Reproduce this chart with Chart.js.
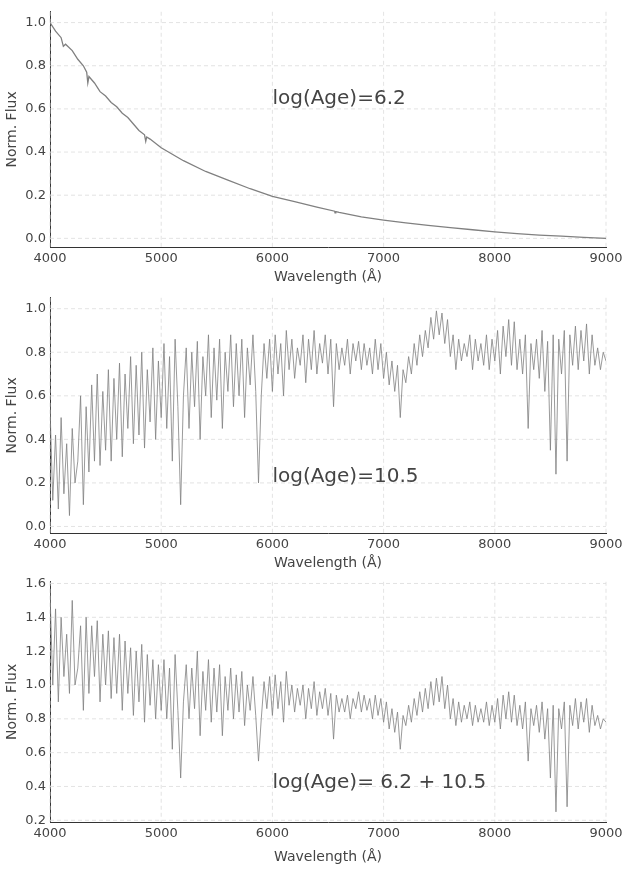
<!DOCTYPE html>
<html>
<head>
<meta charset="utf-8">
<script src="https://cdn.jsdelivr.net/npm/chart.js@4.4.0/dist/chart.umd.min.js"></script>
<style>
  body { margin: 0; background: #fff; width: 631px; height: 870px; position: relative; overflow: hidden; }
  .panel { position: absolute; left: 0; width: 631px; }
</style>
</head>
<body>
<div class="panel" style="top:0;height:290px"><canvas id="c1"></canvas></div>
<div class="panel" style="top:286px;height:290px"><canvas id="c2"></canvas></div>
<div class="panel" style="top:570px;height:300px"><canvas id="c3"></canvas></div>
<script>
// young population: wavelength / flux
const youngWave = [4000,4050,4100,4120,4140,4200,4250,4300,4330,4340,4350,4400,4450,4500,4550,4600,4650,4700,4750,4800,4850,4861,4870,4900,5000,5200,5400,5600,5800,6000,6200,6400,6560,6563,6570,6600,6800,7000,7200,7400,7600,7800,8000,8200,8400,8600,8800,9000];
const youngFlux = [1.0,0.96,0.93,0.89,0.90,0.87,0.83,0.80,0.77,0.72,0.75,0.72,0.68,0.66,0.63,0.61,0.58,0.56,0.53,0.50,0.48,0.45,0.47,0.46,0.42,0.36,0.31,0.27,0.23,0.195,0.17,0.145,0.126,0.118,0.124,0.12,0.10,0.085,0.072,0.06,0.05,0.04,0.03,0.022,0.015,0.01,0.005,0.0];

// old and combined populations, sampled every 25 A from 4000 to 9000
const oldFlux = [
  0.55,0.12,0.42,0.08,0.50,0.15,0.38,0.05,0.45,0.20,
  0.30,0.60,0.10,0.55,0.25,0.65,0.30,0.70,0.28,0.62,
  0.35,0.72,0.30,0.68,0.40,0.75,0.32,0.70,0.45,0.78,
  0.38,0.74,0.42,0.80,0.36,0.72,0.48,0.82,0.40,0.76,
  0.50,0.84,0.45,0.78,0.30,0.86,0.55,0.10,0.60,0.82,
  0.45,0.80,0.55,0.85,0.40,0.78,0.60,0.88,0.50,0.82,
  0.58,0.86,0.45,0.80,0.62,0.88,0.55,0.84,0.60,0.86,
  0.50,0.82,0.65,0.88,0.62,0.20,0.60,0.84,0.68,0.86,
  0.62,0.88,0.70,0.84,0.60,0.90,0.72,0.86,0.68,0.82,
  0.74,0.88,0.66,0.86,0.72,0.90,0.70,0.84,0.75,0.88,
  0.70,0.86,0.55,0.84,0.72,0.82,0.74,0.86,0.70,0.84,
  0.76,0.85,0.72,0.84,0.74,0.82,0.70,0.86,0.72,0.84,
  0.68,0.80,0.65,0.76,0.62,0.74,0.50,0.72,0.66,0.78,
  0.70,0.84,0.74,0.88,0.78,0.90,0.82,0.96,0.86,0.99,
  0.88,0.98,0.84,0.95,0.78,0.88,0.72,0.86,0.76,0.84,
  0.78,0.88,0.72,0.86,0.76,0.84,0.74,0.88,0.72,0.86,
  0.76,0.90,0.70,0.92,0.78,0.95,0.74,0.94,0.72,0.86,
  0.70,0.88,0.45,0.84,0.72,0.86,0.68,0.90,0.62,0.85,
  0.35,0.88,0.24,0.86,0.70,0.90,0.30,0.88,0.74,0.92,
  0.72,0.90,0.76,0.93,0.70,0.88,0.74,0.82,0.72,0.80,
  0.76
];
const mixFlux = [
  1.55,1.00,1.45,0.90,1.40,1.05,1.30,0.95,1.50,1.00,
  1.10,1.35,0.85,1.40,0.95,1.35,1.05,1.38,0.90,1.30,
  1.00,1.32,0.92,1.28,0.95,1.30,0.85,1.26,0.95,1.22,
  0.82,1.20,0.90,1.24,0.78,1.18,0.88,1.15,0.80,1.12,
  0.85,1.15,0.80,1.10,0.62,1.18,0.85,0.45,0.90,1.12,
  0.80,1.10,0.86,1.20,0.70,1.08,0.85,1.15,0.78,1.10,
  0.84,1.12,0.70,1.05,0.85,1.10,0.80,1.06,0.84,1.08,
  0.76,1.00,0.85,1.05,0.82,0.55,0.80,1.02,0.86,1.05,
  0.82,1.06,0.86,1.02,0.78,1.08,0.88,1.00,0.84,0.98,
  0.88,1.00,0.80,0.98,0.86,1.02,0.82,0.96,0.86,0.98,
  0.82,0.95,0.68,0.94,0.84,0.92,0.84,0.94,0.80,0.92,
  0.86,0.96,0.84,0.94,0.85,0.92,0.80,0.94,0.82,0.92,
  0.78,0.90,0.74,0.86,0.72,0.84,0.62,0.82,0.76,0.88,
  0.78,0.92,0.82,0.96,0.84,0.98,0.86,1.02,0.88,1.04,
  0.90,1.05,0.86,1.00,0.80,0.92,0.76,0.90,0.78,0.88,
  0.80,0.90,0.76,0.88,0.78,0.86,0.78,0.90,0.76,0.88,
  0.78,0.92,0.74,0.94,0.80,0.96,0.78,0.94,0.76,0.88,
  0.74,0.90,0.55,0.86,0.76,0.88,0.72,0.90,0.68,0.86,
  0.45,0.88,0.25,0.86,0.74,0.90,0.28,0.88,0.76,0.92,
  0.74,0.90,0.78,0.92,0.72,0.88,0.76,0.82,0.74,0.80,
  0.78
];
const gridWave = oldFlux.map((_, i) => 4000 + i * 25);

const FONT = 'DejaVu Sans';
const TXT = '#444';

// dashed grid + label placed in data coordinates
const extras = {
  id: 'extras',
  beforeDatasetsDraw(chart) {
    const { ctx, chartArea: a, scales: { x, y } } = chart;
    ctx.save();
    ctx.strokeStyle = '#dcdcdc';
    ctx.lineWidth = 0.8;
    ctx.setLineDash([4, 3]);
    x.ticks.forEach(t => {
      const px = x.getPixelForValue(t.value);
      ctx.beginPath(); ctx.moveTo(px, a.top); ctx.lineTo(px, a.bottom); ctx.stroke();
    });
    y.ticks.forEach(t => {
      const py = y.getPixelForValue(t.value);
      ctx.beginPath(); ctx.moveTo(a.left, py); ctx.lineTo(a.right, py); ctx.stroke();
    });
    ctx.restore();
  },
  afterDatasetsDraw(chart) {
    const o = chart.options.plugins.extras;
    const { ctx, scales: { x, y } } = chart;
    ctx.save();
    ctx.fillStyle = TXT;
    ctx.font = '20px ' + FONT;
    ctx.textBaseline = 'middle';
    ctx.fillText(o.text, x.getPixelForValue(o.x), y.getPixelForValue(o.y));
    ctx.restore();
  }
};

function makePanel(id, wave, flux, ymin, ymax, lw, label, ly, axisH) {
  new Chart(document.getElementById(id), {
    type: 'line',
    data: {
      datasets: [{
        data: wave.map((w, i) => ({ x: w, y: flux[i] })),
        borderColor: '#808080',
        borderWidth: lw,
        pointRadius: 0,
        tension: 0
      }]
    },
    options: {
      responsive: true,
      maintainAspectRatio: false,
      animation: false,
      layout: { padding: { top: 8, right: 25, left: 0, bottom: 0 } },
      plugins: {
        legend: { display: false },
        tooltip: { enabled: false },
        extras: { text: label, x: 6000, y: ly }
      },
      scales: {
        x: {
          type: 'linear', min: 4000, max: 9000,
          ticks: { stepSize: 1000, color: TXT, font: { family: FONT, size: 13 }, padding: 4, callback: v => String(v) },
          grid: { color: 'rgba(0,0,0,0)', drawTicks: false },
          border: { display: true, color: '#333' },
          title: { display: true, text: 'Wavelength (Å)', color: TXT, font: { family: FONT, size: 14 }, padding: { top: 4 } },
          afterFit(s) { s.height = axisH; }
        },
        y: {
          min: ymin, max: ymax,
          afterBuildTicks(s) {
            const t = [];
            for (let v = Math.ceil(ymin * 5) / 5; v <= ymax + 1e-9; v += 0.2) t.push({ value: Math.round(v * 10) / 10 });
            s.ticks = t;
          },
          ticks: { color: TXT, font: { family: FONT, size: 13 }, padding: 4, callback: v => v.toFixed(1) },
          grid: { color: 'rgba(0,0,0,0)', drawTicks: false },
          border: { display: true, color: '#333' },
          title: { display: true, text: 'Norm. Flux', color: TXT, font: { family: FONT, size: 14 }, padding: { bottom: 2 } },
          afterFit(s) { s.width = 50; }
        }
      }
    },
    plugins: [extras]
  });
}

makePanel('c1', youngWave, youngFlux, -0.04, 1.05, 1.3, 'log(Age)=6.2', 0.645, 43);
makePanel('c2', gridWave, oldFlux, -0.03, 1.05, 0.8, 'log(Age)=10.5', 0.23, 43);
makePanel('c3', gridWave, mixFlux, 0.19, 1.61, 0.8, 'log(Age)= 6.2 + 10.5', 0.42, 48);
</script>
</body>
</html>
